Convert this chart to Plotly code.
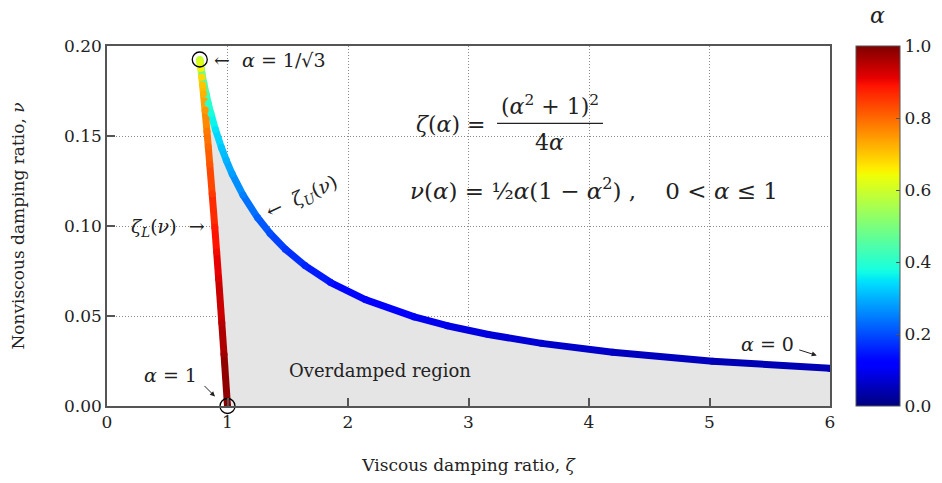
import numpy as np
import plotly.graph_objects as go

# ---- data (parameter alpha, viscous ratio zeta, nonviscous ratio nu)
alpha = [1.00, 0.97, 0.95, 0.92, 0.90, 0.88, 0.85, 0.82, 0.80, 0.78, 0.75, 0.72, 0.70, 0.68,
         0.65, 0.62, 0.60, 0.577, 0.56, 0.55, 0.52, 0.50, 0.48, 0.45, 0.42, 0.40, 0.38, 0.35,
         0.32, 0.30, 0.28, 0.25, 0.22, 0.20, 0.18, 0.16, 0.14, 0.12, 0.10, 0.09, 0.08, 0.07,
         0.06, 0.05, 0.0418]
zeta = [1.0000, 0.9709, 0.9525, 0.9264, 0.9100, 0.8945, 0.8726, 0.8527, 0.8405, 0.8292,
        0.8138, 0.8005, 0.7929, 0.7862, 0.7783, 0.7728, 0.7707, 0.7698, 0.7703, 0.7711,
        0.7759, 0.7813, 0.7885, 0.8033, 0.8238, 0.8410, 0.8616, 0.9000, 0.9494, 0.9901,
        1.0383, 1.1289, 1.2490, 1.3520, 1.4803, 1.6436, 1.8564, 2.1438, 2.5503, 2.8230,
        3.1650, 3.6064, 4.1967, 5.0250, 6.0000]
nu = [0.0000, 0.0287, 0.0463, 0.0707, 0.0855, 0.0993, 0.1179, 0.1343, 0.1440, 0.1527,
      0.1641, 0.1734, 0.1785, 0.1828, 0.1877, 0.1908, 0.1920, 0.1925, 0.1922, 0.1918,
      0.1897, 0.1875, 0.1847, 0.1794, 0.1730, 0.1680, 0.1626, 0.1536, 0.1436, 0.1365,
      0.1290, 0.1172, 0.1047, 0.0960, 0.0871, 0.0780, 0.0686, 0.0591, 0.0495, 0.0446,
      0.0397, 0.0348, 0.0299, 0.0249, 0.0209]

x_ticks = [0, 1, 2, 3, 4, 5, 6]
y_ticks = [0.00, 0.05, 0.10, 0.15, 0.20]
cb_ticks = [0.0, 0.2, 0.4, 0.6, 0.8, 1.0]

FONT = "DejaVu Serif"
AXC = "#555555"
TXT = "#222222"


def jet(v):
    r = np.interp(v, [0, 0.35, 0.66, 0.89, 1], [0, 0, 1, 1, 0.5])
    g = np.interp(v, [0, 0.125, 0.375, 0.64, 0.91, 1], [0, 0, 1, 1, 0, 0])
    b = np.interp(v, [0, 0.11, 0.34, 0.65, 1], [0.5, 1, 1, 0, 0])
    return "rgb(%d,%d,%d)" % (round(r * 255), round(g * 255), round(b * 255))


jet_scale = [[s, jet(s)] for s in np.linspace(0, 1, 101)]

fig = go.Figure()

# shaded overdamped region
fig.add_trace(go.Scatter(
    x=zeta + [zeta[-1], zeta[0]], y=nu + [0.0, nu[0]],
    mode="lines", fill="toself", fillcolor="#e5e5e5",
    line=dict(width=0), hoverinfo="skip", showlegend=False))

# coloured curve, segment by segment (upper branch first, lower branch on top)
k_top = alpha.index(0.577)
order = list(range(len(alpha) - 2, k_top - 1, -1)) + list(range(k_top - 1, -1, -1))
for i in order:
    fig.add_trace(go.Scatter(
        x=[zeta[i], zeta[i + 1]], y=[nu[i], nu[i + 1]], mode="lines",
        line=dict(color=jet((alpha[i] + alpha[i + 1]) / 2), width=7),
        hoverinfo="skip", showlegend=False))

# joints + colorbar
fig.add_trace(go.Scatter(
    x=zeta[::-1], y=nu[::-1], mode="markers",
    marker=dict(size=7, color=alpha[::-1], colorscale=jet_scale, cmin=0, cmax=1,
                line=dict(width=0),
                colorbar=dict(
                    x=1.0366, xanchor="left", xref="paper", y=0.5, yanchor="middle",
                    xpad=0, ypad=0,
                    len=1, lenmode="fraction", thickness=44,
                    outlinewidth=1, outlinecolor=AXC,
                    tickvals=cb_ticks, tickformat=".1f", ticks="inside",
                    ticklen=4, tickcolor=AXC,
                    tickfont=dict(family=FONT, size=17, color=TXT),
                    title=dict(text=""))),
    showlegend=False))

# marked points alpha = 1/sqrt(3) and alpha = 1
fig.add_trace(go.Scatter(
    x=[zeta[k_top], zeta[0]], y=[nu[k_top], nu[0]], mode="markers",
    marker=dict(symbol="circle-open", size=15, color="black", line=dict(width=1.3)),
    cliponaxis=False, showlegend=False))

tf = dict(family=FONT, size=18, color=TXT)
mf = dict(family=FONT, size=19, color=TXT)
bf = dict(family=FONT, size=22, color=TXT)
ann = [
    dict(x=0.871, y=0.1925, text="←  <i>α</i> = 1/√3", xanchor="left", font=mf, showarrow=False),
    dict(x=0.83, y=0.0992, text="<i>ζ<sub>L</sub></i>(<i>ν</i>)  →", xanchor="right", font=mf, showarrow=False),
    dict(x=1.62, y=0.1160, text="←  <i>ζ<sub>U</sub></i>(<i>ν</i>)", textangle=-25, font=mf, showarrow=False),
    dict(x=0.523, y=0.0175, text="<i>α</i> = 1", font=mf, showarrow=False),
    dict(x=0.896, y=0.0053, text="", showarrow=True, ax=-12, ay=-12, arrowhead=2,
         arrowsize=1, arrowwidth=1, arrowcolor=TXT),
    dict(x=5.48, y=0.0342, text="<i>α</i> = 0", font=mf, showarrow=False),
    dict(x=5.89, y=0.0281, text="", showarrow=True, ax=-19, ay=-6, arrowhead=2,
         arrowsize=1, arrowwidth=1, arrowcolor=TXT),
    dict(x=2.266, y=0.0197, text="Overdamped region", font=tf, showarrow=False),
    dict(x=3.154, y=0.1564, text="<i>ζ</i>(<i>α</i>) =", xanchor="right", font=bf, showarrow=False),
    dict(x=3.676, y=0.1675, text="(<i>α</i><sup>2</sup> + 1)<sup>2</sup>", font=bf, showarrow=False),
    dict(x=3.676, y=0.1462, text="4<i>α</i>", font=bf, showarrow=False),
    dict(x=2.498, y=0.1203, text="<i>ν</i>(<i>α</i>) = ½<i>α</i>(1 − <i>α</i><sup>2</sup>) ,    0 < <i>α</i> ≤ 1",
         xanchor="left", font=dict(family=FONT, size=23, color=TXT), showarrow=False),
    dict(x=1.066, y=1.085, xref="paper", yref="paper", xanchor="center", yanchor="middle",
         text="<i>α</i>", font=dict(family=FONT, size=22, color=TXT), showarrow=False),
]
for a in ann:
    a.setdefault("xref", "x")
    a.setdefault("yref", "y")
    fig.add_annotation(**a)

fig.add_shape(type="line", xref="x", yref="y", x0=3.237, x1=4.116, y0=0.1570, y1=0.1570,
              line=dict(color=TXT, width=1.2))

axis_common = dict(
    showline=True, mirror=True, linecolor=AXC, linewidth=1.5,
    ticks="inside", ticklen=8, tickcolor=AXC, tickwidth=1.5,
    showgrid=True, gridcolor="#8a8a8a", griddash="1px,2px", gridwidth=1,
    zeroline=False, tickfont=dict(family=FONT, size=17, color=TXT),
)
fig.update_xaxes(range=[0, 6], tickvals=x_ticks,
                 title=dict(text="Viscous damping ratio, <i>ζ</i>", standoff=28,
                            font=dict(family=FONT, size=17, color=TXT)),
                 **axis_common)
fig.update_yaxes(range=[0, 0.2], tickvals=y_ticks, tickformat=".2f",
                 title=dict(text="Nonviscous damping ratio, <i>ν</i>", standoff=35,
                            font=dict(family=FONT, size=17, color=TXT)),
                 **axis_common)

fig.update_layout(
    width=942, height=483,
    margin=dict(l=107, r=111.5, t=46, b=76.5, autoexpand=False),
    paper_bgcolor="white", plot_bgcolor="white",
    font=dict(family=FONT, color=TXT),
)

# remove the default page margin so the figure fills the 942x483 window exactly
fig.write_html("out.html", config={"displayModeBar": False},
               post_script="document.body.style.margin='0';document.body.style.overflow='hidden';")
